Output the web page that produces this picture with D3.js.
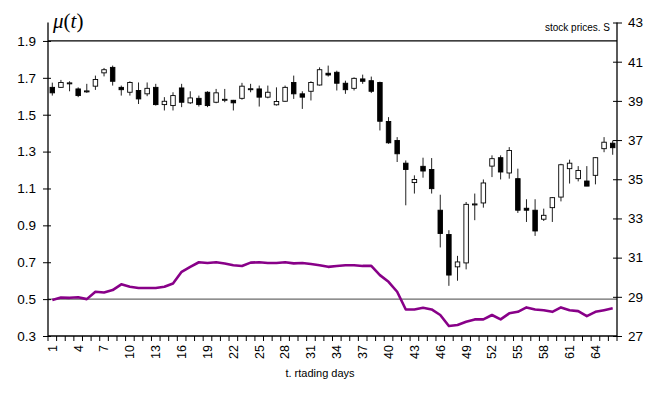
<!DOCTYPE html>
<html><head><meta charset="utf-8">
<script src="https://cdn.jsdelivr.net/npm/d3@7"></script>
<style>body{margin:0;background:#fff}svg{display:block}</style>
</head><body>
<script>
const days = d3.range(1, 67);
const openP  = [39.69,39.69,39.88,39.61,39.49,39.75,40.43,40.71,39.69,39.44,39.53,39.36,39.69,38.81,38.76,39.66,38.90,39.13,39.44,38.93,39.06,39.03,39.13,39.60,39.61,39.19,38.80,38.98,39.94,39.36,39.49,39.81,40.41,40.46,39.90,39.64,40.12,40.03,39.94,37.95,36.98,35.82,34.83,35.66,35.50,33.42,32.18,30.53,30.73,33.70,33.79,35.67,36.10,35.32,35.03,33.52,33.42,32.96,33.55,34.09,35.54,35.03,34.91,35.20,36.56,36.84];
const highP  = [39.93,40.07,40.00,39.69,39.87,40.29,40.68,40.80,39.78,40.00,39.94,39.94,39.87,39.19,39.44,39.87,39.49,39.27,39.49,39.61,39.61,39.05,39.92,39.87,39.78,39.78,39.69,39.78,40.29,39.49,40.00,40.71,40.80,40.54,40.03,40.20,40.34,40.24,39.98,38.17,37.15,35.96,35.20,36.10,36.08,34.21,32.40,31.09,33.84,34.27,34.99,36.22,36.22,36.64,35.54,33.98,33.98,33.50,34.09,35.79,36.00,35.67,35.67,36.13,37.15,36.98];
const lowP   = [39.27,39.66,39.49,39.19,39.41,39.56,40.25,39.78,39.27,39.27,38.84,39.24,38.76,38.51,38.51,38.68,38.84,38.71,38.68,38.88,38.93,38.51,39.06,39.44,38.71,39.13,38.76,38.96,39.10,38.59,39.02,39.78,40.24,39.53,39.36,39.53,39.87,39.40,37.49,36.81,35.88,33.67,34.27,35.08,34.27,31.52,29.56,29.82,30.40,32.91,33.55,35.11,34.99,35.03,33.28,32.82,32.11,32.87,32.82,33.87,34.78,34.89,34.65,34.74,36.38,36.25];
const closeP = [39.41,39.94,39.92,39.27,39.51,40.09,40.59,40.00,39.57,39.94,39.10,39.64,38.81,38.98,39.27,38.93,39.15,38.81,38.76,39.41,39.08,38.90,39.75,39.62,39.19,39.44,38.97,39.69,39.36,39.19,39.94,40.59,40.32,39.90,39.57,40.15,40.00,39.49,37.96,36.86,36.30,35.50,34.99,35.42,34.52,32.23,30.11,30.78,33.72,33.74,34.81,36.05,35.37,36.47,33.42,33.42,32.36,33.16,34.06,35.74,35.82,35.45,34.65,36.10,36.89,36.61];
const mu = [0.495,0.509,0.507,0.51,0.50,0.54,0.536,0.549,0.58,0.567,0.56,0.56,0.56,0.567,0.585,0.648,0.675,0.70,0.696,0.70,0.693,0.684,0.68,0.698,0.70,0.696,0.696,0.70,0.694,0.696,0.69,0.684,0.675,0.68,0.684,0.684,0.68,0.68,0.63,0.594,0.54,0.444,0.444,0.453,0.444,0.414,0.354,0.36,0.377,0.39,0.39,0.414,0.39,0.423,0.431,0.455,0.444,0.44,0.431,0.455,0.44,0.435,0.408,0.431,0.44,0.45];
const muTicks = [0.3,0.5,0.7,0.9,1.1,1.3,1.5,1.7,1.9];
const priceTicks = [27,29,31,33,35,37,39,41,43];
const dayLabels = days.filter(d => (d - 1) % 3 === 0);

const W = 662, H = 397;
const pLeft = 48, pRight = 617, pTop = 22.5, pBottom = 336;
const svg = d3.select("body").append("svg").attr("width", W).attr("height", H);

const x = d3.scaleBand().domain(days).range([pLeft, pRight]).padding(0);
const yL = d3.scaleLinear().domain([0.3, 2.0]).range([pBottom, pTop]);
const yR = d3.scaleLinear().domain([27, 43]).range([pBottom, pTop]);
const font = "Liberation Sans, Arial, sans-serif";

// reference lines
svg.append("line").attr("x1", pLeft).attr("x2", pRight).attr("y1", yL(0.5)).attr("y2", yL(0.5))
  .attr("stroke", "#6a6a6a").attr("stroke-width", 1.3);
svg.append("line").attr("x1", pLeft).attr("x2", pRight).attr("y1", yL(1.9)).attr("y2", yL(1.9))
  .attr("stroke", "#000").attr("stroke-width", 1.3);

// candlesticks
const cx = d => x(d) + x.bandwidth() / 2;
const bw = 4.5;
const g = svg.append("g");
days.forEach((d, i) => {
  g.append("line").attr("x1", cx(d)).attr("x2", cx(d))
    .attr("y1", yR(highP[i])).attr("y2", yR(lowP[i]))
    .attr("stroke", "#222").attr("stroke-width", 1);
  const up = closeP[i] >= openP[i];
  const y0 = yR(Math.max(openP[i], closeP[i])), y1 = yR(Math.min(openP[i], closeP[i]));
  g.append("rect").attr("x", cx(d) - bw / 2).attr("y", y0)
    .attr("width", bw).attr("height", Math.max(1, y1 - y0))
    .attr("fill", up ? "#fff" : "#000").attr("stroke", "#000").attr("stroke-width", 0.9);
});

// mu line
svg.append("path").datum(mu)
  .attr("d", d3.line().x((v, i) => cx(days[i])).y(v => yL(v)))
  .attr("fill", "none").attr("stroke", "#880088").attr("stroke-width", 2.6)
  .attr("stroke-linejoin", "round");

// left axis
const la = svg.append("g").attr("transform", `translate(${pLeft},0)`)
  .call(d3.axisLeft(yL).tickValues(muTicks).tickFormat(d3.format(".1f")).tickSize(5).tickSizeOuter(0));
la.select(".domain").attr("d", `M0,${pTop}V${pBottom}`).attr("stroke-width", 1.3);
la.selectAll(".tick line").attr("x2", -5).attr("x1", 3);
la.selectAll("text").attr("font-family", font).attr("font-size", 13.5).attr("x", -12);

// right axis
const ra = svg.append("g").attr("transform", `translate(${pRight},0)`)
  .call(d3.axisRight(yR).tickValues(priceTicks).tickSize(5).tickSizeOuter(0));
ra.select(".domain").attr("d", `M0,${pTop}V${pBottom}`).attr("stroke-width", 1.3);
ra.selectAll(".tick line").attr("x1", -4).attr("x2", 5);
ra.selectAll("text").attr("font-family", font).attr("font-size", 13.5).attr("x", 11);

// bottom axis
const ba = svg.append("g").attr("transform", `translate(0,${pBottom})`);
ba.append("line").attr("x1", pLeft).attr("x2", pRight).attr("stroke", "#000").attr("stroke-width", 1.3);
ba.selectAll("line.tk").data(d3.range(0, days.length + 1)).join("line").attr("class", "tk")
  .attr("x1", i => pLeft + i * x.bandwidth()).attr("x2", i => pLeft + i * x.bandwidth())
  .attr("y1", 0).attr("y2", 5).attr("stroke", "#000");
ba.selectAll("text").data(dayLabels).join("text")
  .attr("transform", d => `translate(${cx(d)},9) rotate(-90)`)
  .attr("text-anchor", "end").attr("dy", "0.35em")
  .attr("font-family", font).attr("font-size", 12.5).text(d => d);

// titles
svg.append("text").attr("x", 320).attr("y", 377).attr("text-anchor", "middle")
  .attr("font-family", font).attr("font-size", 11).text("t. rtading days");
svg.append("text").attr("x", 610).attr("y", 31).attr("text-anchor", "end")
  .attr("font-family", font).attr("font-size", 10).text("stock prices. S");
const mt = svg.append("text").attr("x", 53).attr("y", 28)
  .attr("font-family", "Liberation Serif, Times New Roman, serif").attr("font-style", "italic").attr("font-size", 21);
mt.append("tspan").text("μ");
mt.append("tspan").attr("font-style", "normal").text("(");
mt.append("tspan").text("t");
mt.append("tspan").attr("font-style", "normal").text(")");
</script>
</body></html>
